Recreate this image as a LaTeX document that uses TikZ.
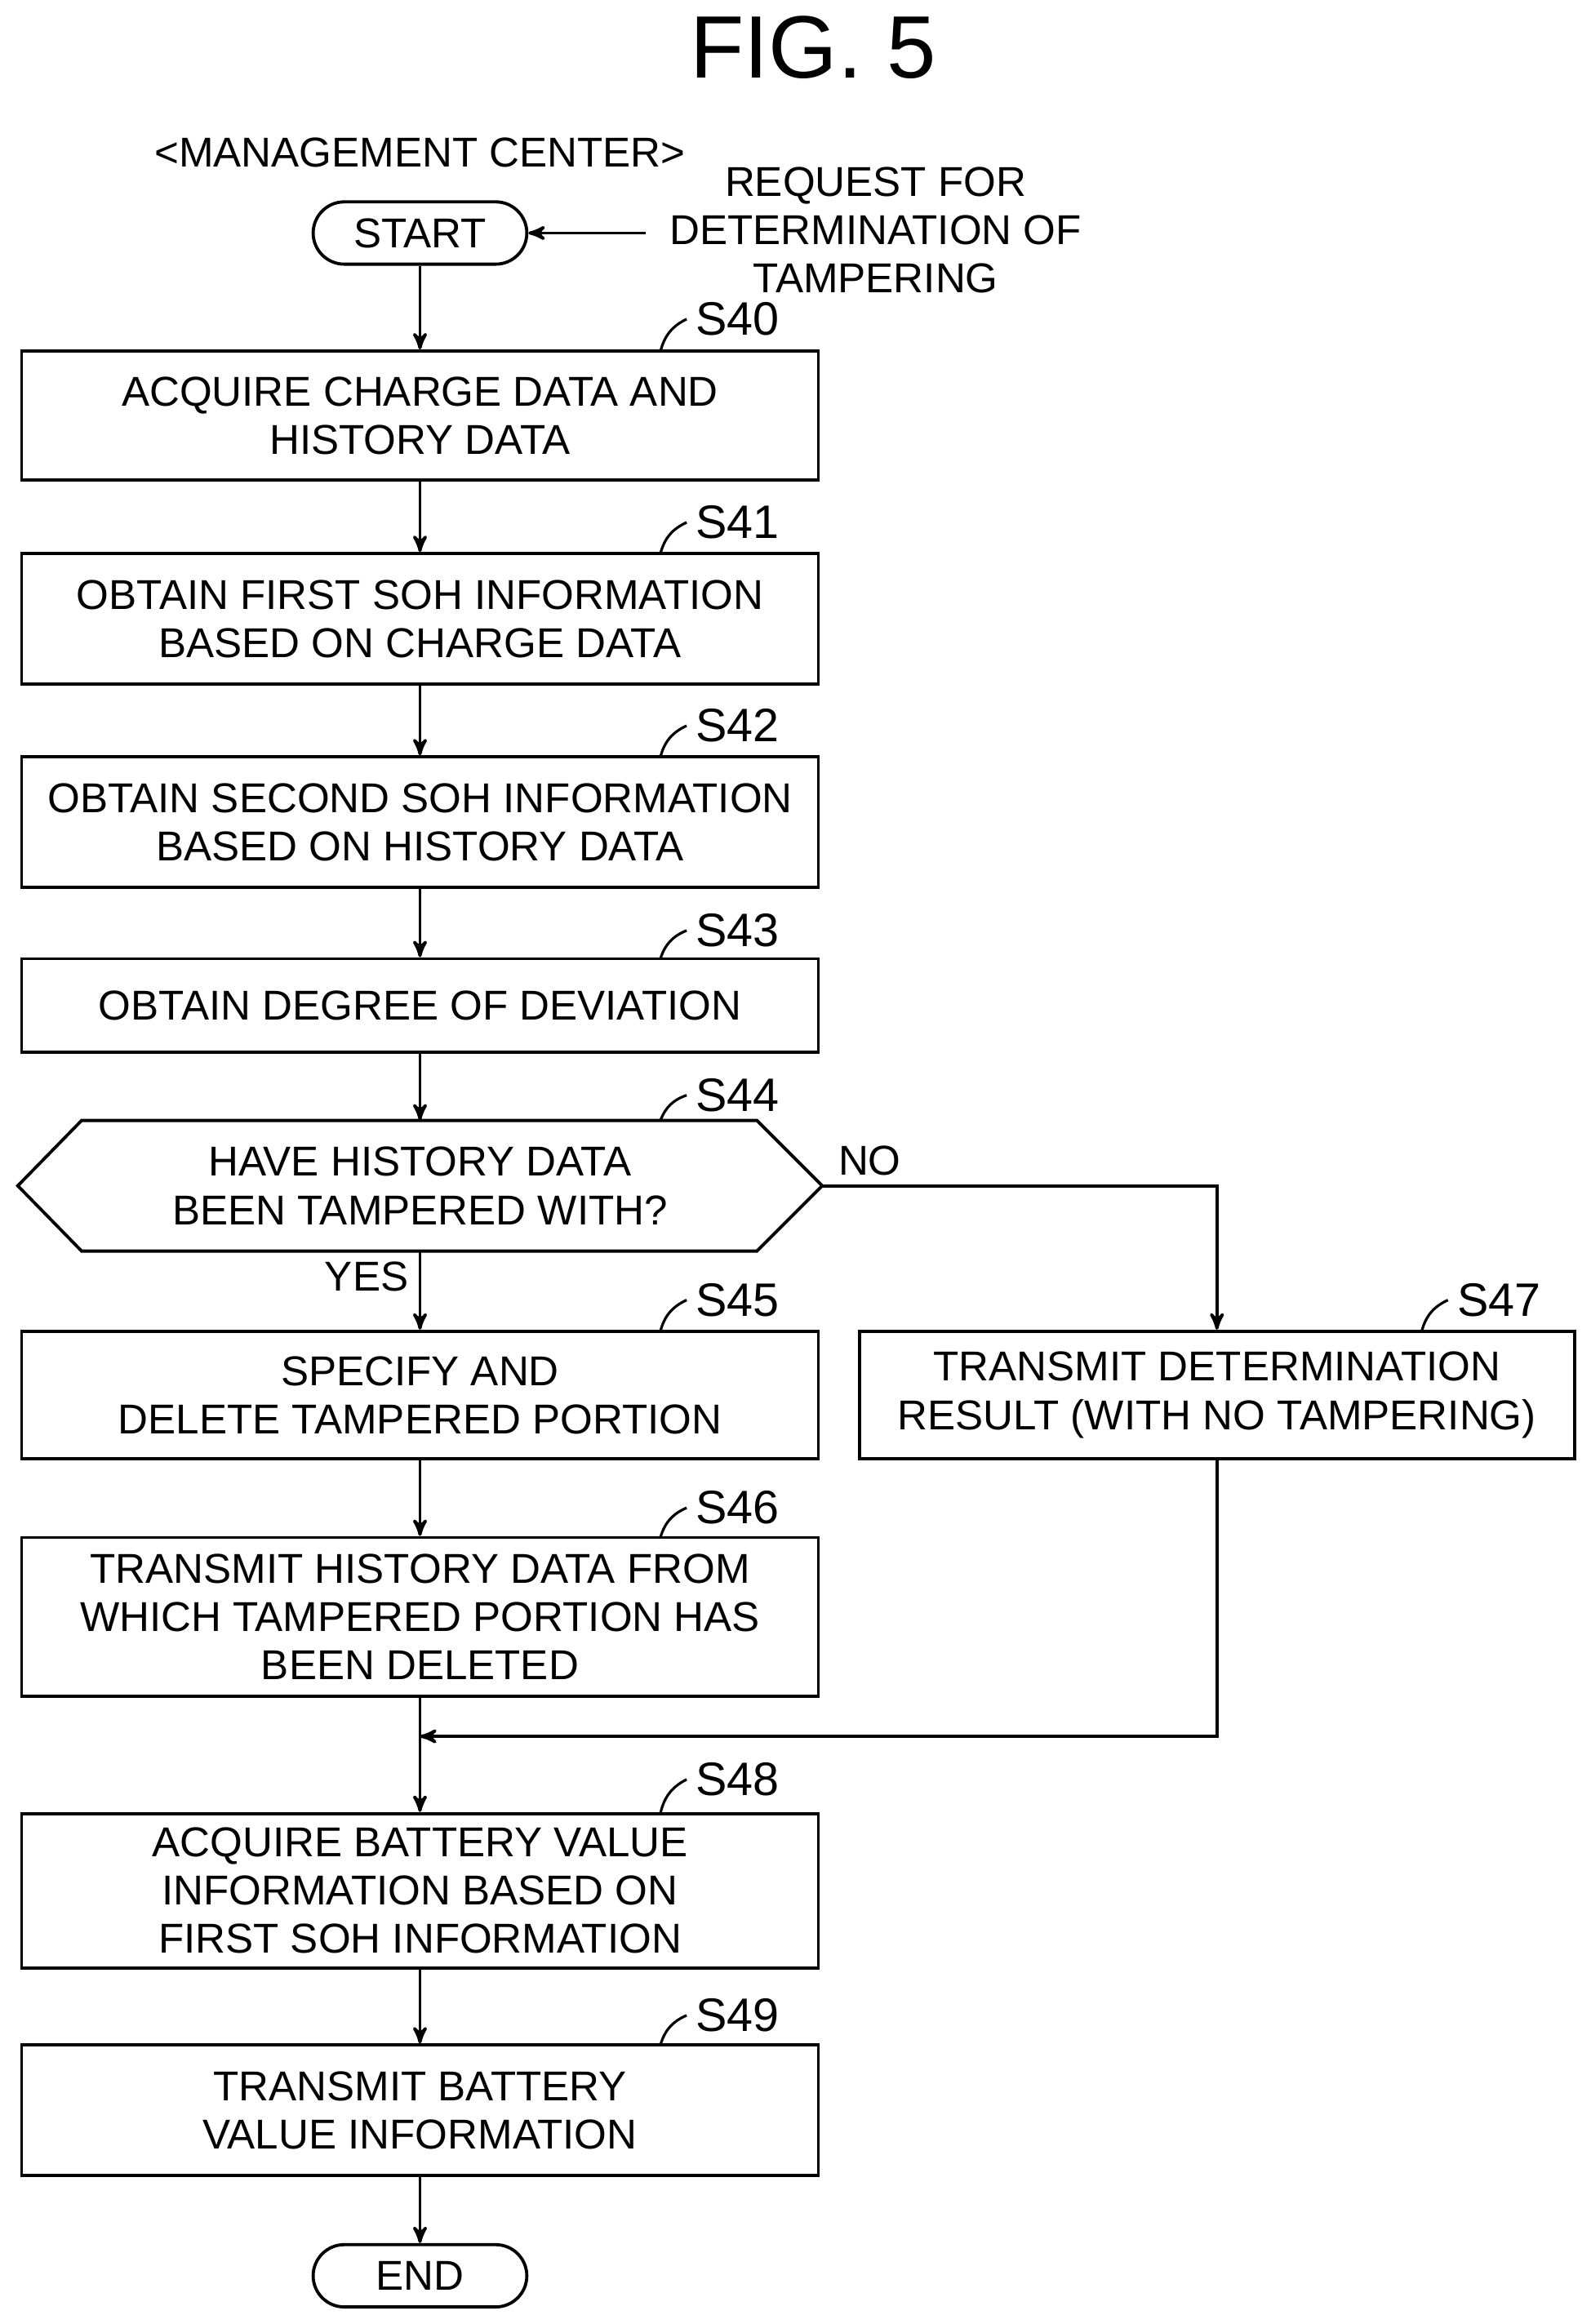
\documentclass[tikz,border=0pt]{standalone}
\usepackage{fontspec}
\setmainfont{Liberation Sans}
\usetikzlibrary{positioning}
\usetikzlibrary{shapes}
\usetikzlibrary{arrows}

\begin{document}
\begin{tikzpicture}[x=0.02cm,y=-0.02cm,font=\fontsize{16}{18.5}\selectfont]
  \tikzset{box/.style={draw, line width=1.2pt, minimum width=10.74cm, align=center, inner sep=0pt}}
  \tikzset{term/.style={draw, line width=1.2pt, rounded corners=0.42cm, minimum width=2.88cm, minimum height=0.84cm}}
  \tikzset{line/.style={draw, line width=1.2pt, ->, >=stealth'}}
  \tikzset{tick/.style={draw, line width=1pt}}
  \tikzset{steplabel/.style={font=\fontsize{18}{20}\selectfont}}

  \useasboundingbox (0,0) rectangle (1072,1566);

  \node[font=\fontsize{34}{38}\selectfont] (fig) at (548,32) {FIG. 5};
  \node (mc) at (283,103) {<MANAGEMENT CENTER>};

  \node[term] (start) at (283,157) {START};
  \node[align=center] (req) at (590,155) {REQUEST FOR\\DETERMINATION OF\\TAMPERING};

  \node[box, minimum height=1.74cm] (s40) at (283,280) {ACQUIRE CHARGE DATA AND\\HISTORY DATA};
  \node[box, minimum height=1.76cm] (s41) at (283,417) {OBTAIN FIRST SOH INFORMATION\\BASED ON CHARGE DATA};
  \node[box, minimum height=1.76cm] (s42) at (283,554) {OBTAIN SECOND SOH INFORMATION\\BASED ON HISTORY DATA};
  \node[box, minimum height=1.26cm] (s43) at (283,677.5) {OBTAIN DEGREE OF DEVIATION};

  % decision hexagon
  \coordinate (s44w) at (12,799);
  \coordinate (s44e) at (554,799);
  \draw[line width=1.2pt] (s44w) -- (55,755) -- (510,755) -- (s44e) -- (510,843) -- (55,843) -- cycle;
  \node[align=center] (s44) at (283,799) {HAVE HISTORY DATA\\BEEN TAMPERED WITH?};

  \node[box, minimum height=1.72cm] (s45) at (283,940) {SPECIFY AND\\DELETE TAMPERED PORTION};
  \node[box, minimum width=9.64cm, minimum height=1.72cm] (s47) at (820,940) {TRANSMIT DETERMINATION\\RESULT (WITH NO TAMPERING)};
  \node[box, minimum height=2.14cm] (s46) at (283,1089.5) {TRANSMIT HISTORY DATA FROM\\WHICH TAMPERED PORTION HAS\\BEEN DELETED};
  \node[box, minimum height=2.08cm] (s48) at (283,1274) {ACQUIRE BATTERY VALUE\\INFORMATION BASED ON\\FIRST SOH INFORMATION};
  \node[box, minimum height=1.76cm] (s49) at (283,1422) {TRANSMIT BATTERY\\VALUE INFORMATION};
  \node[term] (end) at (283,1533.5) {END};

  % step labels
  \foreach \s/\t/\x/\y in {s40/S40/497/215, s41/S41/497/352, s42/S42/497/489, s43/S43/497/627, s44/S44/497/738, s45/S45/497/876, s46/S46/497/1016, s48/S48/497/1199, s49/S49/497/1358, s47/S47/1010/876}
    \node[steplabel] (l\s) at (\x,\y) {\t};
  \foreach \s/\x/\y in {s40/445/237, s41/445/373, s42/445/510, s43/445/646, s44/445/755, s45/445/897, s46/445/1036, s48/445/1222, s49/445/1378, s47/958/897}
    \draw[tick] (\x,\y) to[bend left=25] (l\s.west);

  % connectors
  \coordinate (reqw) at (435,157);
  \path[line] (reqw) -- (start);
  \path[line] (start) -- (s40);
  \path[line] (s40) -- (s41);
  \path[line] (s41) -- (s42);
  \path[line] (s42) -- (s43);
  \path[line] (s43) -- (283,755);
  \path[line] (283,843) -- (s45);
  \path[line] (s44e) -| (s47.north);
  \path[line] (s45) -- (s46);
  \path[line] (s46) -- (s48);
  \coordinate (join) at (283,1170);
  \path[line] (s47.south) |- (join);
  \path[line] (s48) -- (s49);
  \path[line] (s49) -- (end);

  \node (no) at (586,782) {NO};
  \node (yes) at (247,860) {YES};
\end{tikzpicture}
\end{document}
